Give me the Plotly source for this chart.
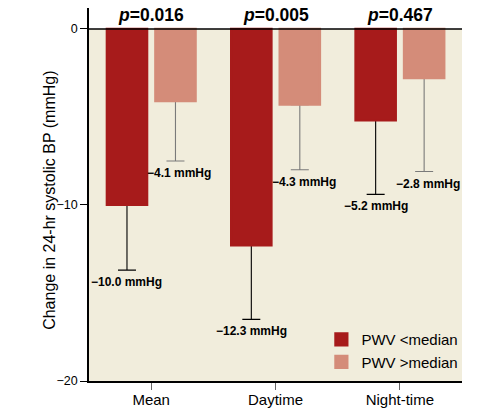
import plotly.graph_objects as go

categories = ["Mean", "Daytime", "Night-time"]
pwv_below = [-10.0, -12.3, -5.2]
pwv_above = [-4.1, -4.3, -2.8]
pwv_below_err = [3.7, 4.2, 4.2]
pwv_above_err = [3.4, 3.7, 5.3]
p_values = ["0.016", "0.005", "0.467"]
series_names = ["PWV <median", "PWV >median"]
y_ticks = [-20, -10, 0]
y_title = "Change in 24-hr systolic BP (mmHg)"

DARK = "#a71b1b"
LIGHT = "#d48c79"
BG = "#f1eddc"
BOLD = "Liberation Sans, Arial, Helvetica, sans-serif"
SANS = "Liberation Sans, Arial, Helvetica, sans-serif"

xs = list(range(len(categories)))
BW = 0.325
OFF = [-0.357, 0.033]

fig = go.Figure()
series = [(pwv_below, pwv_below_err, DARK, "black"), (pwv_above, pwv_above_err, LIGHT, "#7a7a7a")]

# error whiskers (drawn first, covered by the bars)
for k, (vals, errs, col, ecol) in enumerate(series):
    fig.add_trace(go.Bar(
        x=xs, y=vals, width=BW, offset=OFF[k],
        marker=dict(color="rgba(0,0,0,0)", line=dict(width=0)),
        error_y=dict(type="data", symmetric=False, array=[0] * len(vals), arrayminus=errs,
                     color=ecol, thickness=1.1, width=9),
        showlegend=False, hoverinfo="skip"))

for k, (vals, errs, col, ecol) in enumerate(series):
    fig.add_trace(go.Bar(
        x=xs, y=vals, width=BW, offset=OFF[k], name=series_names[k],
        marker=dict(color=col, line=dict(width=2.2, color=col))))

annotations = []
for k, (vals, errs, col, ecol) in enumerate(series):
    for i, (v, e) in enumerate(zip(vals, errs)):
        annotations.append(dict(
            x=i + OFF[k] + BW / 2, y=v - e, xref="x", yref="y",
            text="\u2212%.1f mmHg" % abs(v), showarrow=False,
            yanchor="middle", xanchor="center", yshift=-12, xshift=(0 if k == 0 else 4),
            font=dict(family=BOLD, size=12, color="black", weight="bold")))
for i, p in enumerate(p_values):
    annotations.append(dict(
        x=i, y=0, xref="x", yref="y", text="<i>p</i>=" + p, showarrow=False,
        yanchor="bottom", xanchor="center", yshift=2,
        font=dict(family=BOLD, size=17.5, color="black", weight="bold")))
annotations.append(dict(
    x=0, y=0.483, xref="paper", yref="paper", text=y_title, showarrow=False,
    textangle=-90, xanchor="center", yanchor="middle", xshift=-39,
    font=dict(family=SANS, size=16, color="black")))

fig.update_layout(
    width=502, height=412,
    margin=dict(l=89, r=40, t=8, b=31),
    paper_bgcolor="white", plot_bgcolor="white",
    barmode="overlay",
    showlegend=True,
    legend=dict(x=0.623, y=0.155, xanchor="left", yanchor="top",
                bgcolor="rgba(0,0,0,0)", font=dict(family=SANS, size=15, color="black"),
                tracegroupgap=0),
    shapes=[
        dict(type="rect", xref="paper", yref="y", x0=0, x1=1, y0=-20, y1=0,
             fillcolor=BG, line=dict(width=0), layer="below"),
        dict(type="line", xref="paper", yref="y", x0=0, x1=1, y0=0, y1=0,
             line=dict(color="black", width=1.5), layer="above"),
    ],
    annotations=annotations,
    xaxis=dict(range=[-0.5, 2.5], tickvals=xs, ticktext=categories, automargin=False,
               showline=True, linecolor="black", linewidth=1.5,
               ticks="outside", ticklen=7, tickcolor="#666", tickwidth=1,
               showgrid=False, zeroline=False, ticklabelstandoff=-3,
               tickfont=dict(family=SANS, size=15, color="black")),
    yaxis=dict(range=[-20, 1.19], tickvals=y_ticks, automargin=False,
               showline=True, linecolor="black", linewidth=1.5,
               ticks="outside", ticklen=7, tickcolor="black", tickwidth=1,
               showgrid=False, zeroline=False,
               tickfont=dict(family=SANS, size=12.5, color="black")),
)

# remove the default 8px page margin so the 502x412 figure fills the window exactly
fig.write_html("out.html", config={"displayModeBar": False},
               post_script="document.body.style.margin='0';")
